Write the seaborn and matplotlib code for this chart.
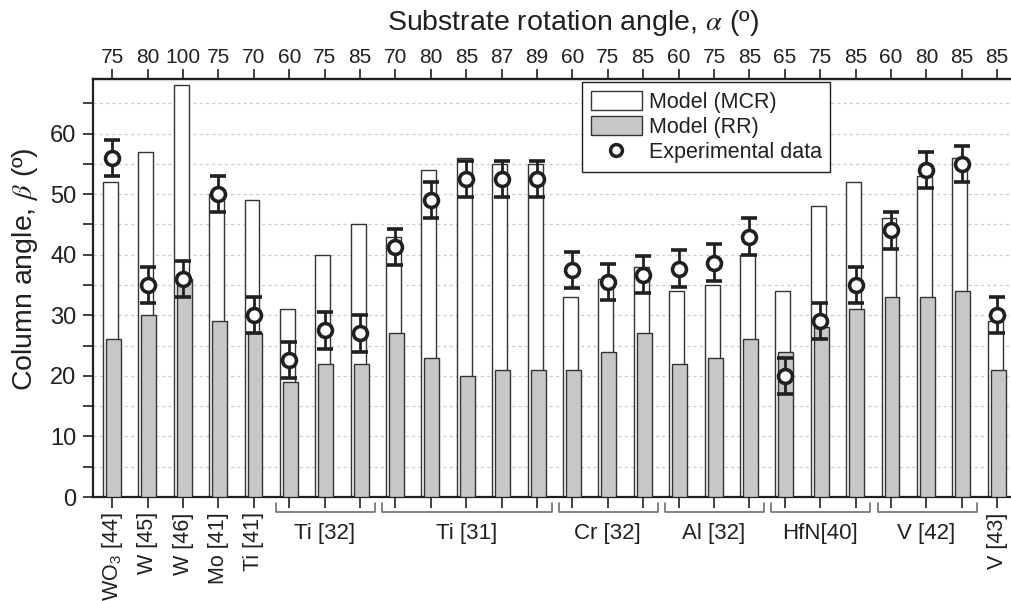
import numpy as np
import matplotlib
matplotlib.use("Agg")
import matplotlib.pyplot as plt
from matplotlib.patches import Patch
from matplotlib.lines import Line2D
from matplotlib.ticker import MultipleLocator
import seaborn as sns

# Substrate rotation angle of every deposition (top axis)
alpha = [75, 80, 100, 75, 70, 60, 75, 85, 70, 80, 85, 87, 89,
         60, 75, 85, 60, 75, 85, 65, 75, 85, 60, 80, 85, 85]
# Column angle predicted by the two models
beta_mcr = [52, 57, 68, 50, 49, 31, 40, 45, 43, 54, 56, 55, 55,
            33, 36, 38, 34, 35, 40, 34, 48, 52, 46, 53, 56, 29]
beta_rr = [26, 30, 36, 29, 27, 19, 22, 22, 27, 23, 20, 21, 21,
           21, 24, 27, 22, 23, 26, 24, 28, 31, 33, 33, 34, 21]
# Measured column angle and its uncertainty
beta_exp = [56, 35, 36, 50, 30, 22.6, 27.5, 27, 41.3, 49, 52.5, 52.5, 52.5,
            37.5, 35.5, 36.7, 37.7, 38.7, 43, 20, 29, 35, 44, 54, 55, 30]
beta_err = [3, 3, 3, 3, 3, 3, 3, 3, 3, 3, 3, 3, 3,
            3, 3, 3, 3, 3, 3, 3, 3, 3, 3, 3, 3, 3]
# Material and reference of each group of depositions (bottom axis)
group_names = ["WO$_3$ [44]", "W [45]", "W [46]", "Mo [41]", "Ti [41]",
               "Ti [32]", "Ti [31]", "Cr [32]", "Al [32]", "HfN[40]",
               "V [42]", "V [43]"]
group_sizes = [1, 1, 1, 1, 1, 3, 5, 3, 3, 3, 3, 1]

sns.set_style("ticks")
plt.rcParams["font.family"] = ["Liberation Sans", "DejaVu Sans"]
plt.rcParams["mathtext.fontset"] = "custom"
plt.rcParams["mathtext.rm"] = "Liberation Sans"
plt.rcParams["mathtext.it"] = "Liberation Sans:italic"
plt.rcParams["mathtext.default"] = "regular"

INK = "#231f20"
EDGE = "#333333"
GRAY = "#c6c7c9"

fig = plt.figure(figsize=(10.11, 6.01), dpi=100)
W, H = 1011, 601
ax = fig.add_axes([93.3 / W, 1 - 497 / H, 923 / W, 418 / H])

pos = np.arange(len(alpha))
sns.barplot(x=pos - 0.055, y=beta_mcr, native_scale=True, width=0.42,
            color="white", saturation=1, edgecolor=EDGE, linewidth=1.0,
            errorbar=None, ax=ax, zorder=2)
sns.barplot(x=pos + 0.03, y=beta_rr, native_scale=True, width=0.42,
            color=GRAY, saturation=1, edgecolor=EDGE, linewidth=1.0,
            errorbar=None, ax=ax, zorder=3)
ax.errorbar(pos, beta_exp, yerr=beta_err, fmt="o", ms=10, mfc="white",
            mec=INK, mew=2.6, ecolor=INK, elinewidth=2.0, capsize=6,
            capthick=2.0, zorder=5)

ax.set_xlim(-0.537, 25.54)
ax.set_ylim(0, 69)
ax.yaxis.set_major_locator(MultipleLocator(10))
ax.yaxis.set_minor_locator(MultipleLocator(5))
ax.set_axisbelow(True)
ax.grid(True, which="both", axis="y", color="#cdcdcd", lw=0.9,
        ls=(0, (2.5, 2.5)))
ax.grid(False, axis="x")

for side in ("left", "bottom", "top"):
    ax.spines[side].set_linewidth(1.6)
    ax.spines[side].set_color(INK)
ax.spines["right"].set_visible(False)

ax.tick_params(axis="y", which="both", direction="out", length=7.2,
               width=1.2, color=INK, labelsize=17, labelcolor=INK, pad=5)

# Bottom axis: single depositions get a rotated label at their tick
starts = np.cumsum([0] + group_sizes[:-1])
bottom_labels = [""] * len(alpha)
for name, s, n in zip(group_names, starts, group_sizes):
    if n == 1:
        bottom_labels[s] = name
ax.set_xticks(pos)
ax.set_xticklabels(bottom_labels, rotation=90, ha="center", va="top")
ax.tick_params(axis="x", direction="out", length=8, width=1.2, color=INK,
               labelsize=15.5, labelcolor=INK, pad=3)

# Grouped depositions: bracket under the ticks with the group name
trans = ax.get_xaxis_transform()
ax_h = 418
y_line = -15 / ax_h
y_end = -6 / ax_h
y_txt = -36 / ax_h
for name, s, n in zip(group_names, starts, group_sizes):
    if n == 1:
        continue
    x0, x1 = s - 0.38, s + n - 1 + 0.42
    ax.plot([x0, x0, x1, x1], [y_end, y_line, y_line, y_end],
            transform=trans, clip_on=False, color="#6e6e6e", lw=1.2)
    ax.text((2 * s + n - 1) / 2, y_txt, name, transform=trans,
            ha="center", va="center", fontsize=16, color=INK)

# Top axis with the rotation angles
top = ax.secondary_xaxis("top")
top.set_xticks(pos)
top.set_xticklabels([str(a) for a in alpha])
top.tick_params(direction="out", length=7.2, width=1.2, color=INK,
                labelsize=15, labelcolor=INK, pad=1.5)
top.spines["top"].set_linewidth(1.6)
top.set_xlabel(r"Substrate rotation angle, $\mathit{\alpha}$ (º)",
               fontsize=20.5, color=INK, labelpad=13, math_fontfamily="stix")
top.xaxis.label.set_x(0.52)

ax.set_xlabel("")
ax.set_ylabel(r"Column angle, $\mathit{\beta}$ (º)", fontsize=20.5,
              color=INK, labelpad=7, math_fontfamily="stix")
ax.yaxis.label.set_y(0.545)

handles = [Patch(facecolor="white", edgecolor=EDGE, lw=1.0),
           Patch(facecolor=GRAY, edgecolor=EDGE, lw=1.0),
           Line2D([], [], ls="none", marker="o", ms=8.5, mfc="white",
                  mec=INK, mew=2.5)]
leg = ax.legend(handles, ["Model (MCR)", "Model (RR)", "Experimental data"],
                loc="upper left", bbox_to_anchor=((582 - 93.3) / 923,
                                                  (497 - 82) / 418),
                borderaxespad=0, fontsize=15.5, frameon=True, fancybox=False,
                framealpha=1, edgecolor=INK, handlelength=2.4,
                handleheight=1.0, handletextpad=0.3, labelspacing=0.15,
                borderpad=0.4)
leg.get_frame().set_linewidth(1.0)
for t in leg.get_texts():
    t.set_color(INK)

fig.savefig("out.png", dpi=100)
